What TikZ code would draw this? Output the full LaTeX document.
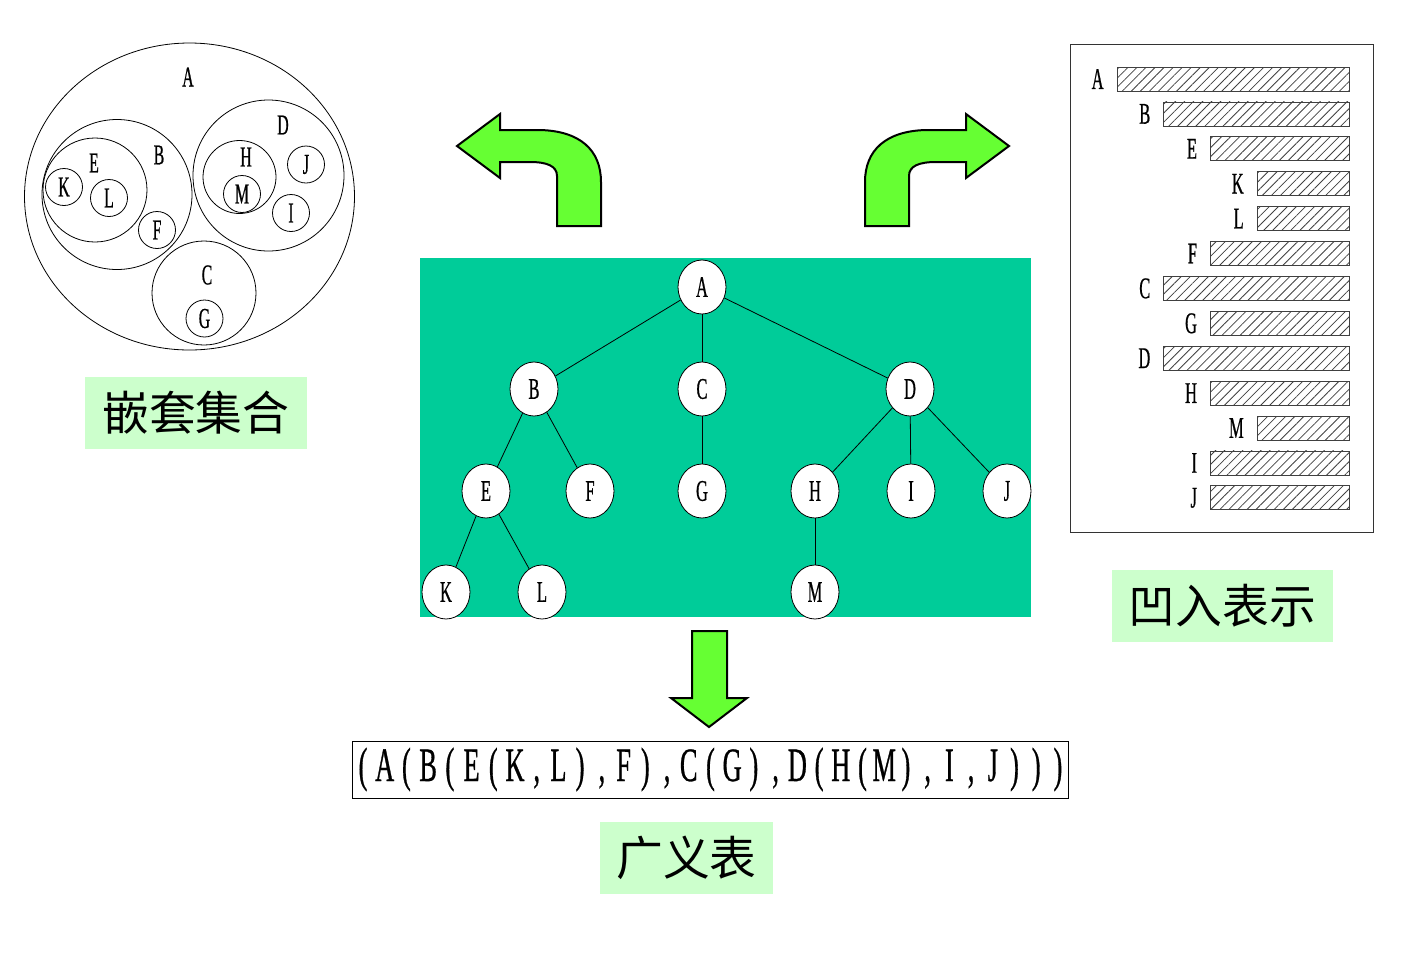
\documentclass[tikz,border=0pt]{standalone}
\usepackage{fontspec}
\setmainfont[FakeStretch=0.55,FakeBold=0.6]{Liberation Serif}
\newfontfamily\cjk{Noto Sans CJK SC}
\usepackage{tikz}
\usetikzlibrary{shapes.geometric,patterns.meta}
\definecolor{treebg}{RGB}{0,204,153}
\definecolor{arrowgreen}{RGB}{102,255,51}
\definecolor{tagbg}{RGB}{204,255,204}
\newcommand{\spaced}[1]{\spacedchar#1\relax}
\def\spacedchar#1{\ifx#1\relax\else\makebox[10.86pt]{#1}\expandafter\spacedchar\fi}

\begin{document}
\begin{tikzpicture}[x=0.5pt,y=-0.5pt,
  tnode/.style={ellipse,draw,fill=white,minimum width=24pt,minimum height=27pt,inner sep=0pt,font=\fontsize{15}{15}\selectfont},
  snode/.style={circle,draw,minimum size=18.5pt,inner sep=0pt,font=\fontsize{14.4}{14.4}\selectfont},
  slabel/.style={inner sep=0pt,font=\fontsize{14.4}{14.4}\selectfont},
  tag/.style={fill=tagbg,minimum height=36pt,inner sep=0pt,font=\cjk\fontsize{23.4}{23.4}\selectfont},
  fatarrow/.style={draw,fill=arrowgreen,line width=1pt,line join=miter},
  bar/.style={draw=black!75,pattern={Lines[angle=45,distance=3.2pt,line width=0.4pt]},pattern color=black!75}]
  \useasboundingbox (0,0) rectangle (1410,960);
  % nested sets
  \draw (189.5,196.5) ellipse [x radius=165,y radius=153.5];
  \foreach \x/\y/\r in {117/194.5/75,95/190/52,268.5/175.5/75.5,239.5/177/36.5,204/293/52}
    \draw (\x,\y) circle [radius=\r];
  \foreach \n/\x/\y in {A/188/77,B/159/155,E/94/163,D/283/125,H/246/157,C/207/275}
    \node[slabel] (s\n) at (\x,\y) {\n};
  \foreach \n/\x/\y in {K/64/187,L/109/198,F/157/230,M/242/194,J/306/164.5,I/291/213,G/204.5/318.5}
    \node[snode] (s\n) at (\x,\y) {\n};
  \node[tag,minimum width=111pt] (nest) at (196,413) {嵌套集合};
  % tree
  \fill[treebg] (420,258) rectangle (1031,617);
  \foreach \n/\x/\y in {A/702/287,B/534/389,C/702/389,D/910/389,E/486/491,F/590/491,G/702/491,
      H/815/491,I/911/491,J/1007/491,K/446/592,L/542/592,M/815/592}
    \node[tnode] (t\n) at (\x,\y) {\n};
  \foreach \a/\b in {A/B,A/C,A/D,B/E,B/F,C/G,D/H,D/I,D/J,E/K,E/L,H/M}
    \draw (t\a) -- (t\b);
  % arrows
  \foreach \s in {1,-1}
    \draw[fatarrow,shift={(733,0)},xscale=\s] (-276,146) -- (-233,114) -- (-233,130) -- (-193,130)
      .. controls (-153,131) and (-132,150) .. (-132,182) -- (-132,226) -- (-176,226) -- (-176,176)
      .. controls (-176,166) and (-186,162) .. (-203,162) -- (-233,162) -- (-233,178) -- cycle;
  \draw[fatarrow] (692,631) -- (727,631) -- (727,698) -- (747,698) -- (709,727) -- (671,698) -- (692,698) -- cycle;
  % indentation
  \draw[black!80] (1070,44) rectangle (1373,532);
  \foreach \n/\d [count=\i from 0] in {A/0,B/1,E/2,K/3,L/3,F/2,C/1,G/2,D/1,H/2,M/3,I/2,J/2} {
    \draw[bar] ({1117+46.7*\d},{67+34.9*\i}) rectangle (1349,{91+34.9*\i});
    \node[slabel,anchor=east,font=\fontsize{15}{15}\selectfont] (i\n) at ({1104+46.7*\d},{79+34.9*\i}) {\n};
  }
  \node[tag,minimum width=110.5pt] (indent) at (1222.5,605.5) {凹入表示};
  % generalized list
  \node[draw,inner sep=0pt,minimum width=357.5pt,minimum height=28.5pt,font=\fontsize{24}{24}\selectfont] (glist)
    at (710.5,769.5) {\spaced{(A(B(E(K,L),F),C(G),D(H(M),I,J)))}};
  \node[tag,minimum width=86.5pt] (gtag) at (686.5,857.5) {广义表};
\end{tikzpicture}
\end{document}
